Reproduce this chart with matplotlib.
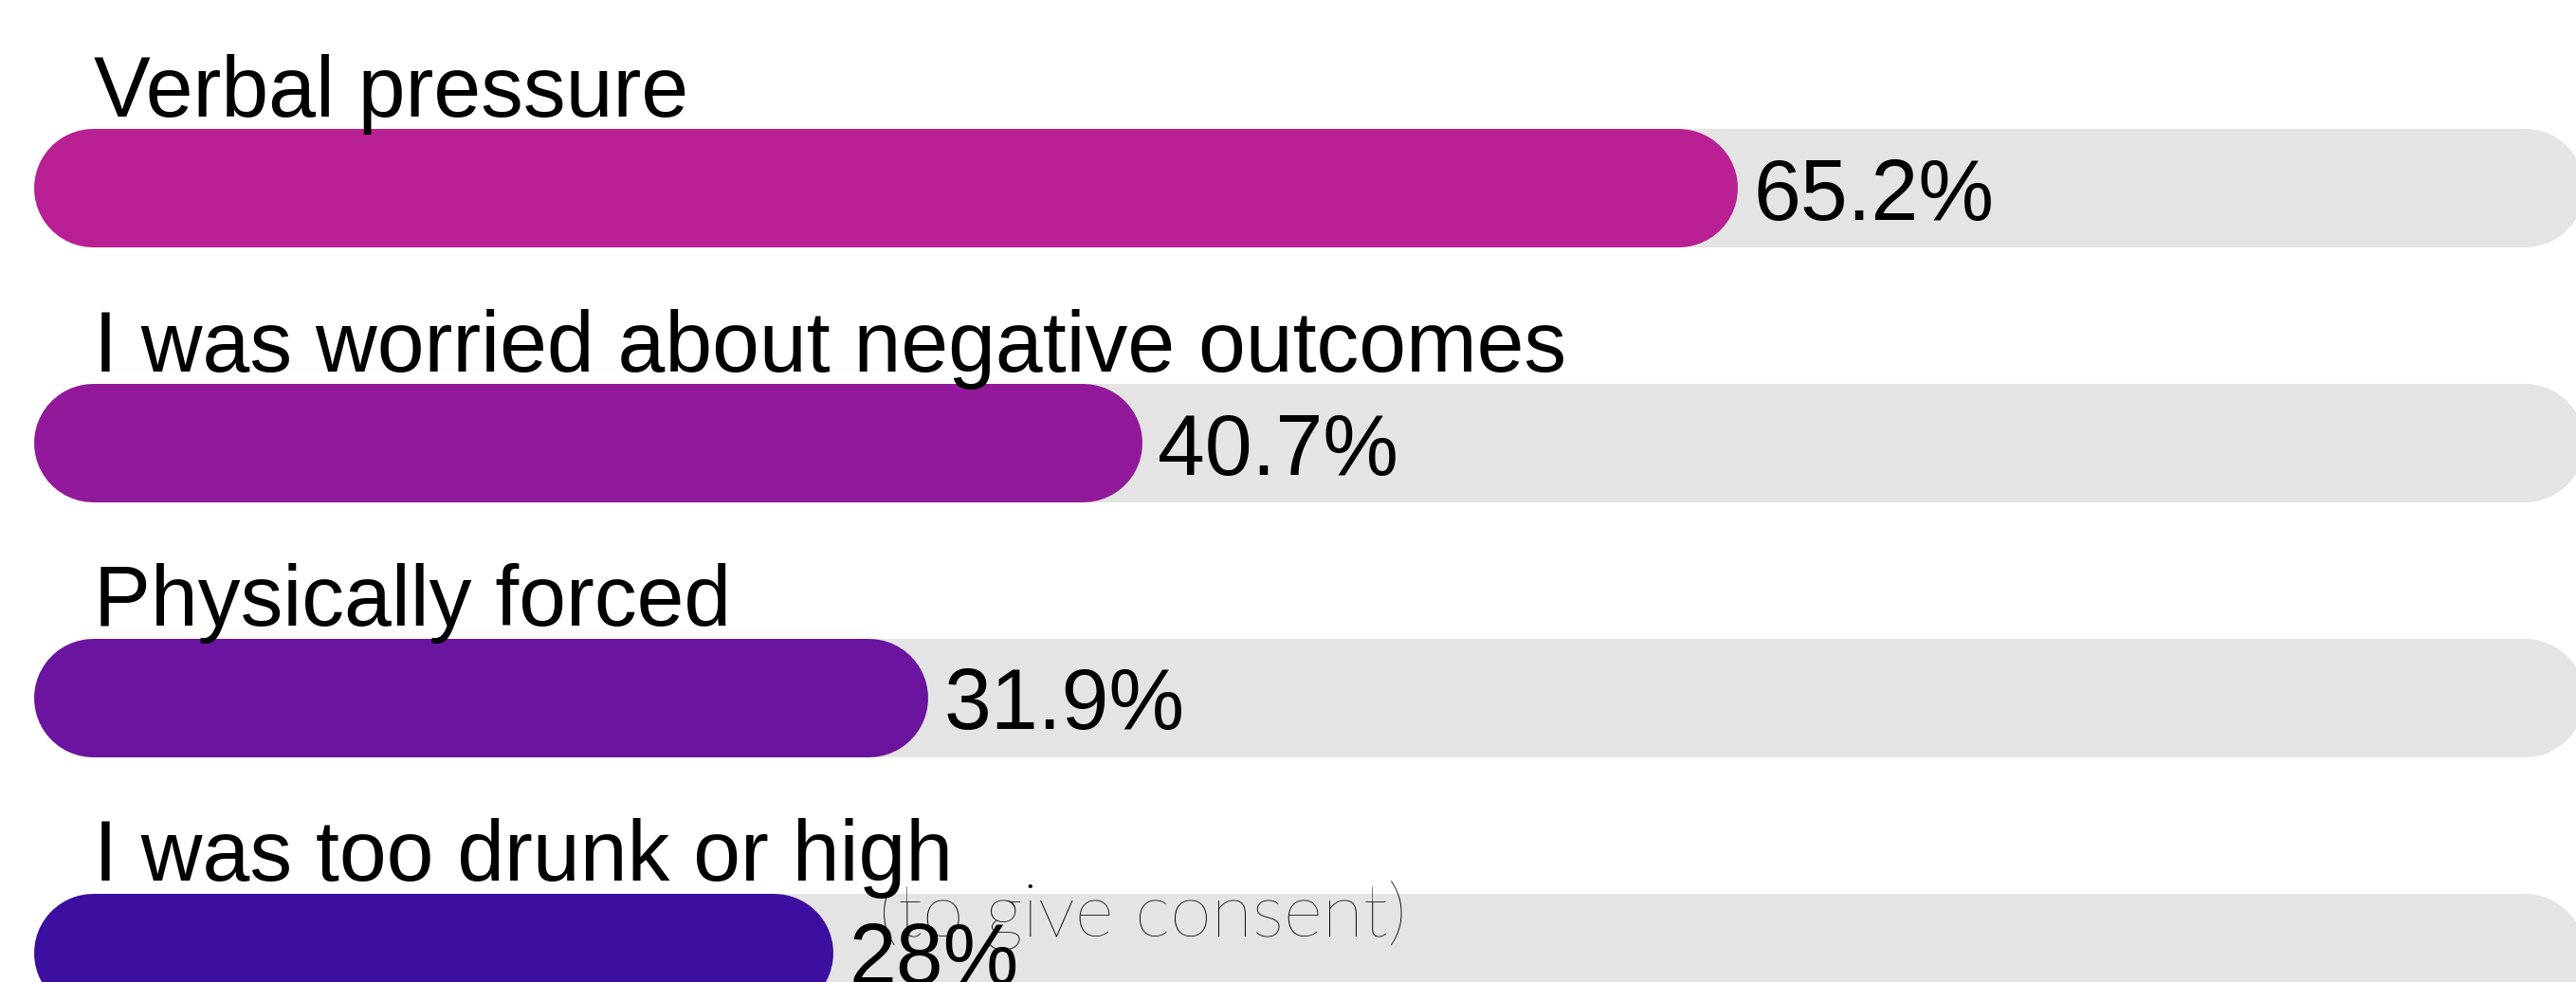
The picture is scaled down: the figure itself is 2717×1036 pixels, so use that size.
import matplotlib
matplotlib.use("Agg")
import matplotlib.pyplot as plt

categories = ["Verbal pressure",
              "I was worried about negative outcomes",
              "Physically forced",
              "I was too drunk or high"]
values = [65.2, 40.7, 31.9, 28]
value_labels = ["65.2%", "40.7%", "31.9%", "28%"]
note_text = "(to give consent)"
bar_colors = ["#B82093", "#921A9A", "#6B14A0", "#3C0FA0"]
track_color = "#E4E4E4"
track_max = 100

W, H, DPI = 2717, 1036, 100
fig = plt.figure(figsize=(W / DPI, H / DPI), dpi=DPI)
ax = fig.add_axes([0, 0, 1, 1])
ax.set_axis_off()

px_per_unit = 25.65
x0_px = 98
xmin = -x0_px / px_per_unit
ax.set_xlim(xmin, xmin + W / px_per_unit)
row_px = 268.7
first_px = 198.5
ax.set_ylim((H - first_px) / row_px, -first_px / row_px)

bar_h_px = 125
lw_pt = bar_h_px * 72 / DPI
px = 72 / DPI  # points per pixel
font_main = "Liberation Sans"
fs = 64.5

for i, (cat, v, lab, c) in enumerate(zip(categories, values, value_labels, bar_colors)):
    ax.plot([0, track_max], [i, i], color=track_color, lw=lw_pt,
            solid_capstyle="round", zorder=1)
    ax.plot([0, v], [i, i], color=c, lw=lw_pt, solid_capstyle="round", zorder=2)
    ax.annotate(cat, (0, i), xytext=(1 * px, (bar_h_px / 2 + 13) * px),
                textcoords="offset points", ha="left", va="baseline",
                fontsize=fs, family=font_main, color="black", zorder=3)
    ax.annotate(lab, (v, i), xytext=((bar_h_px / 2 + 17) * px, -33.5 * px),
                textcoords="offset points", ha="left", va="baseline",
                fontsize=fs, family=font_main, color="black", zorder=3)

ax.annotate(note_text, (0, 3), xytext=(829 * px, 16.5 * px),
            textcoords="offset points", ha="left", va="baseline",
            fontsize=57, family="Lato", fontweight="light", color="black", zorder=4)

fig.savefig("out.png", dpi=DPI)
